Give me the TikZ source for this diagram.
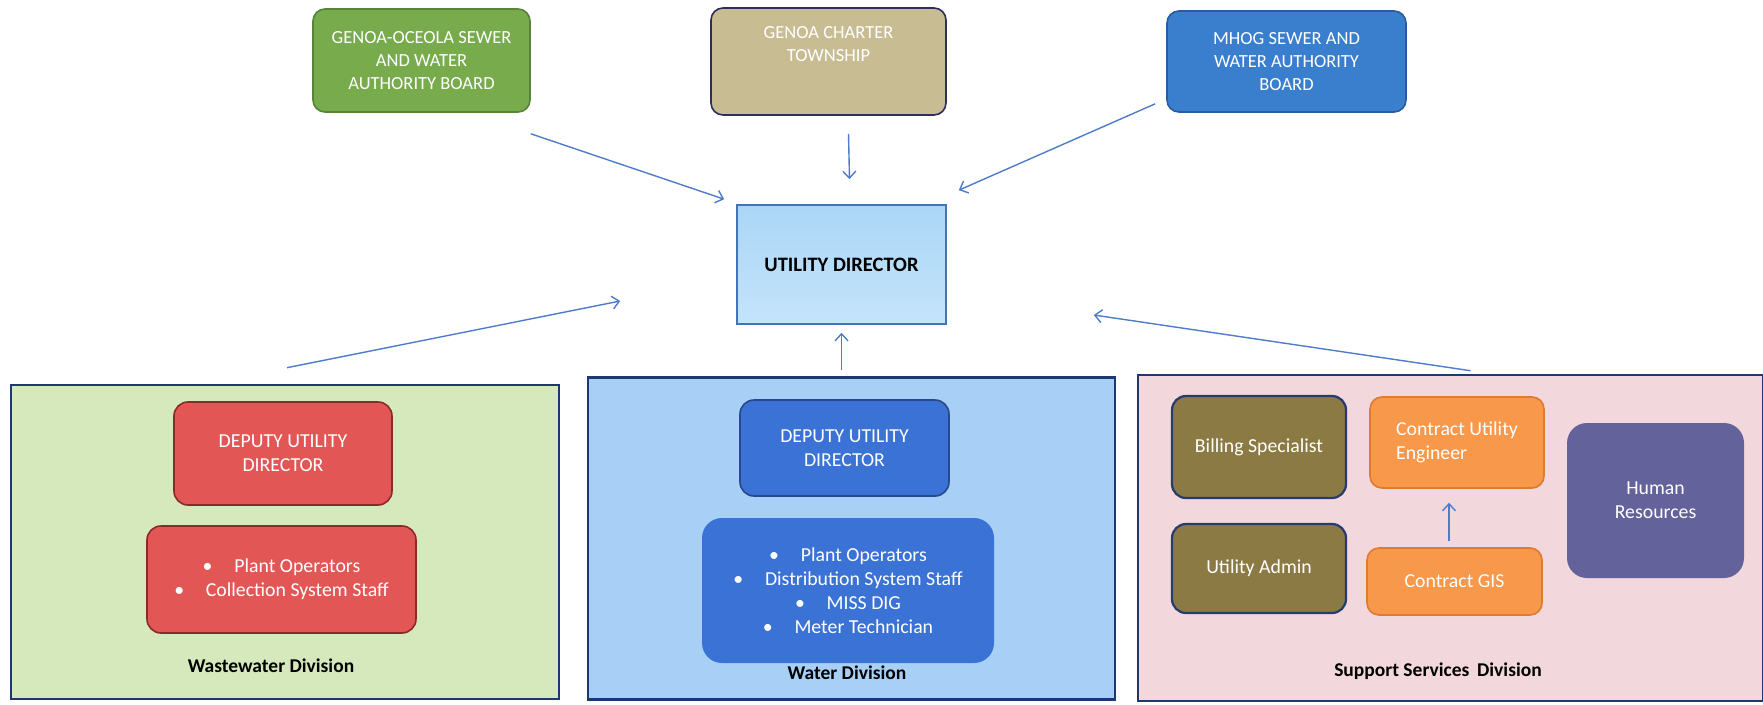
\documentclass[tikz,border=0pt]{standalone}
\usepackage{fontspec}
\setmainfont{Carlito}
\usetikzlibrary{positioning,calc,arrows,arrows.meta}

\definecolor{boardgreen}{RGB}{119,171,76}
\definecolor{boardgreenline}{RGB}{88,132,58}
\definecolor{townshiptan}{RGB}{200,188,146}
\definecolor{townshipline}{RGB}{44,46,92}
\definecolor{mhogblue}{RGB}{58,126,206}
\definecolor{mhogline}{RGB}{40,92,160}
\definecolor{dirtop}{RGB}{170,214,246}
\definecolor{dirbot}{RGB}{196,228,251}
\definecolor{dirline}{RGB}{66,116,186}
\definecolor{wastefill}{RGB}{214,233,188}
\definecolor{waterfill}{RGB}{168,208,246}
\definecolor{supportfill}{RGB}{242,216,220}
\definecolor{panelline}{RGB}{30,56,112}
\definecolor{deputyred}{RGB}{226,86,86}
\definecolor{deputyredline}{RGB}{140,42,42}
\definecolor{deputyblue}{RGB}{58,114,214}
\definecolor{deputyblueline}{RGB}{42,72,140}
\definecolor{billingolive}{RGB}{140,122,68}
\definecolor{billingline}{RGB}{36,60,110}
\definecolor{contractorange}{RGB}{247,152,75}
\definecolor{contractline}{RGB}{222,122,50}
\definecolor{hrpurple}{RGB}{100,98,154}
\definecolor{arrowblue}{RGB}{78,124,200}

\begin{document}
\begin{tikzpicture}[x=1pt,y=-1pt]
\tikzstyle{box}=[rectangle, rounded corners=12pt, line width=1.6pt, text=white, align=center, inner sep=0pt, font=\fontsize{18.5}{23}\selectfont]
\tikzstyle{inner}=[box, rounded corners=14pt, font=\fontsize{19.8}{24}\selectfont]
\tikzstyle{panel}=[rectangle, draw=panelline, line width=2.6pt, inner sep=0pt]
\tikzstyle{divlabel}=[text=black, font=\bfseries\fontsize{19.5}{22}\selectfont]
\tikzstyle{connect}=[-{Straight Barb[length=7pt,width=13pt]}, line width=1.4pt, draw=arrowblue]
\useasboundingbox (0,0) rectangle (1763,704);
% 1. Boards and director
%%%%%%%%%%
\node[box, fill=boardgreen, draw=boardgreenline, minimum width=217, minimum height=103] (gosw) at (421.5,60.5) {GENOA-OCEOLA SEWER\\AND WATER\\AUTHORITY BOARD};
\node[box, fill=townshiptan, draw=townshipline, minimum width=235, minimum height=107] (township) at (828.5,61.5) {GENOA CHARTER\\TOWNSHIP\\[12pt]\mbox{}};
\node[box, fill=mhogblue, draw=mhogline, minimum width=239, minimum height=101] (mhog) at (1286.5,61.5) {MHOG SEWER AND\\WATER AUTHORITY\\BOARD};
\node[rectangle, top color=dirtop, bottom color=dirbot, draw=dirline, line width=1.6pt, minimum width=209, minimum height=119, font=\bfseries\fontsize{20.5}{23}\selectfont] (director) at (841.5,264.5) {UTILITY DIRECTOR};

% 2. Division panels
%%%%%%%%%%
\node[panel, fill=wastefill, minimum width=548, minimum height=314] (waste) at (285,542) {};
\node[panel, fill=waterfill, minimum width=527, minimum height=322] (water) at (851.5,538.5) {};
\node[panel, fill=supportfill, minimum width=625, minimum height=326] (support) at (1450.5,538) {};

% 3. Wastewater
\node[inner, fill=deputyred, draw=deputyredline, minimum width=218, minimum height=103] (wdeputy) at (283,453.5) {DEPUTY UTILITY\\DIRECTOR};
\node[inner, fill=deputyred, draw=deputyredline, minimum width=269, minimum height=107] (wstaff) at (281.5,579.5) {\textbullet\hspace{1.1em}Plant Operators\\\textbullet\hspace{1.1em}Collection System Staff};
\node[divlabel] (wlabel) at (271,666) {Wastewater Division};

% 4. Water
\node[inner, fill=deputyblue, draw=deputyblueline, minimum width=209, minimum height=96] (rdeputy) at (844.5,448) {DEPUTY UTILITY\\DIRECTOR};
\node[inner, rounded corners=20pt, fill=deputyblue, minimum width=292, minimum height=145] (rstaff) at (848,590.5) {\textbullet\hspace{1.1em}Plant Operators\\\textbullet\hspace{1.1em}Distribution System Staff\\\textbullet\hspace{1.1em}MISS DIG\\\textbullet\hspace{1.1em}Meter Technician};
\node[divlabel] (rlabel) at (847,673) {Water Division};

% 5. Support services
\node[inner, fill=billingolive, draw=billingline, line width=2.2pt, minimum width=174, minimum height=102] (billing) at (1259,447) {Billing Specialist};
\node[inner, fill=billingolive, draw=billingline, line width=2.2pt, minimum width=174, minimum height=89] (admin) at (1259,568.5) {Utility Admin};
\node[inner, rounded corners=12pt, fill=contractorange, draw=contractline, align=left, minimum width=174, minimum height=91] (engineer) at (1457,442.5) {Contract Utility\\Engineer};
\node[inner, rounded corners=12pt, fill=contractorange, draw=contractline, minimum width=175, minimum height=67] (gis) at (1454.5,581.5) {Contract GIS};
\node[inner, rounded corners=20pt, fill=hrpurple, minimum width=177, minimum height=155] (hr) at (1655.5,500.5) {Human\\Resources};
\node[divlabel] (slabel) at (1438,671) {Support Services\hspace{0.4em}Division};

% 6. Arrows
%%%%%%%%%%%
\path ($(gosw.south east)+(0,21)$)   edge [connect] ($(director.north west)+(-12,-5)$)
      ($(township.south)+(20,18)$)   edge [connect] ($(director.north)+(8,-25)$)
      ($(mhog.south west)+(-11,-9)$) edge [connect] ($(director.north east)+(12,-14)$)
      ($(waste.north)+(2,-16)$)      edge [connect] ($(director.west)+(-116,36.5)$)
      ($(water.north -| director.south)+(0,-6)$) edge [connect] ($(director.south)+(0,8)$)
      ($(support.north)+(20,-3)$)    edge [connect] ($(director.east)+(147,50.5)$)
      ($(gis.north)+(-5.5,-6)$)      edge [connect] ($(engineer.south)+(-8,14)$);

\end{tikzpicture}
\end{document}
